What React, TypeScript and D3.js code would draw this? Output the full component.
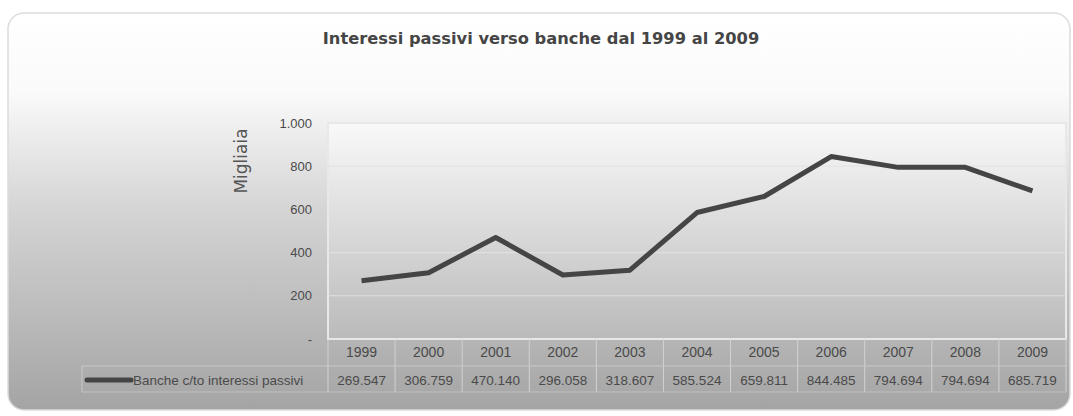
import React from "react";
import * as d3 from "d3";

const years = ["1999","2000","2001","2002","2003","2004","2005","2006","2007","2008","2009"];
const values = [269.547, 306.759, 470.140, 296.058, 318.607, 585.524, 659.811, 844.485, 794.694, 794.694, 685.719];
const valueLabels = ["269.547","306.759","470.140","296.058","318.607","585.524","659.811","844.485","794.694","794.694","685.719"];
const yTicks = [0, 200, 400, 600, 800, 1000];
const yTickLabels = ["-", "200", "400", "600", "800", "1.000"];
const seriesName = "Banche c/to interessi passivi";
const title = "Interessi passivi verso banche dal 1999 al 2009";
const yTitle = "Migliaia";

export default function App() {
  const W = 1073, H = 416;
  const plot = { left: 328, right: 1066, top: 123, bottom: 339 };
  const x = d3.scaleBand<string>().domain(years).range([plot.left, plot.right]);
  const y = d3.scaleLinear().domain([0, 1000]).range([plot.bottom, plot.top]);
  const line = d3.line<number>()
    .x((_, i) => (x(years[i]) as number) + x.bandwidth() / 2)
    .y((d) => y(d));
  const row1 = 352, row2 = 380;
  const tableBottom = 392;
  const font = "'Liberation Sans', Arial, sans-serif";
  return (
    <svg width={W} height={H} style={{ position: "absolute", left: 0, top: 0 }}>
      <defs>
        <linearGradient id="bg" x1="0" y1="0" x2="0" y2="1">
          <stop offset="0%" stopColor="#ffffff" />
          <stop offset="20%" stopColor="#fafafa" />
          <stop offset="50%" stopColor="#d4d4d4" />
          <stop offset="100%" stopColor="#a4a4a4" />
        </linearGradient>
        <linearGradient id="pbg" x1="0" y1="0" x2="0" y2="1">
          <stop offset="0%" stopColor="#f9f9f9" />
          <stop offset="100%" stopColor="#bababa" />
        </linearGradient>
      </defs>
      <rect x={0} y={0} width={W} height={H} fill="#ffffff" />
      <rect x={8} y={13} width={1062} height={397} rx={16} ry={16} fill="url(#bg)" stroke="#dcdcdc" strokeWidth={1.5} />
      <text x={541} y={44} textAnchor="middle" fontFamily="'DejaVu Sans', sans-serif" fontWeight="bold" fontSize={16.3} fill="#454545">{title}</text>
      <rect x={plot.left} y={plot.top} width={plot.right - plot.left} height={plot.bottom - plot.top} fill="url(#pbg)" stroke="#e8e8e8" strokeWidth={2} />
      {yTicks.slice(1, -1).map((t) => (
        <line key={t} x1={plot.left} x2={plot.right} y1={y(t)} y2={y(t)} stroke="#e2e2e2" strokeWidth={1} />
      ))}
      {yTicks.map((t, i) => (
        <text key={t} x={312} y={y(t)} dy="0.35em" textAnchor="end" fontFamily={font} fontSize={13} fill="#4a4a4a">{yTickLabels[i]}</text>
      ))}
      <text transform={`translate(241,161) rotate(-90)`} textAnchor="middle" dy="0.35em" fontFamily="'DejaVu Sans', sans-serif" fontSize={17} fill="#555">{yTitle}</text>
      <path d={line(values) || ""} fill="none" stroke="#454545" strokeWidth={5} strokeLinejoin="round" />
      {/* data table */}
      {years.map((yr) => (
        <line key={"v" + yr} x1={x(yr) as number} x2={x(yr) as number} y1={plot.bottom} y2={tableBottom} stroke="#d2d2d2" strokeWidth={1} />
      ))}
      <line x1={plot.right} x2={plot.right} y1={plot.bottom} y2={tableBottom} stroke="#d2d2d2" strokeWidth={1} />
      <line x1={82} x2={plot.right} y1={366} y2={366} stroke="#c8c8c8" strokeWidth={1} />
      <line x1={82} x2={plot.right} y1={tableBottom} y2={tableBottom} stroke="#c0c0c0" strokeWidth={1} />
      <line x1={82} x2={82} y1={366} y2={tableBottom} stroke="#c8c8c8" strokeWidth={1} />
      {years.map((yr) => (
        <text key={"t" + yr} x={(x(yr) as number) + x.bandwidth() / 2} y={row1} dy="0.35em" textAnchor="middle" fontFamily={font} fontSize={14} fill="#4a4a4a">{yr}</text>
      ))}
      {valueLabels.map((v, i) => (
        <text key={"d" + i} x={(x(years[i]) as number) + x.bandwidth() / 2} y={row2} dy="0.35em" textAnchor="middle" fontFamily={font} fontSize={13.5} fill="#4a4a4a">{v}</text>
      ))}
      <line x1={87} x2={131} y1={row2} y2={row2} stroke="#454545" strokeWidth={5} strokeLinecap="round" />
      <text x={133} y={row2} dy="0.35em" fontFamily={font} fontSize={13.5} fill="#4a4a4a">{seriesName}</text>
    </svg>
  );
}
